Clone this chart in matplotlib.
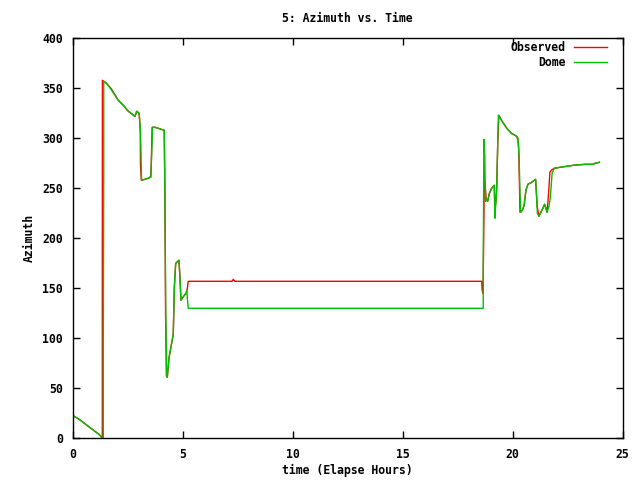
import matplotlib
matplotlib.use('Agg')
from matplotlib import pyplot as plt

# Observed azimuth (hours, degrees)
obs_t = [0.0, 0.3, 0.6, 0.9, 1.2, 1.33, 1.355, 1.355, 1.36, 1.55, 1.78, 2.08, 2.31,
         2.54, 2.84, 2.92, 3.03, 3.08, 3.09, 3.13, 3.44, 3.56, 3.58, 3.62, 3.75, 3.9,
         4.17, 4.2, 4.23, 4.27, 4.31, 4.39, 4.58, 4.63, 4.69, 4.84, 4.89, 4.93, 5.05,
         5.19, 5.22, 5.26, 7.25, 7.31, 7.37, 18.6, 18.62, 18.66, 18.68, 18.72, 18.76,
         18.8, 18.87, 18.95, 19.05, 19.13, 19.17, 19.2, 19.24, 19.28, 19.33, 19.38, 19.5,
         19.74, 19.95, 20.19, 20.25, 20.28, 20.31, 20.34, 20.45, 20.53, 20.61, 20.7,
         20.87, 21.05, 21.1, 21.13, 21.2, 21.4, 21.46, 21.52, 21.57, 21.64, 21.7, 21.76,
         21.9, 22.16, 22.76, 23.3, 23.67, 23.75, 23.95]
obs_az = [23, 19, 14, 9, 4, 1, 0, 179, 358, 355, 349, 338, 333,
          327, 322, 327, 325, 307, 273, 258, 260, 262, 274, 311, 311, 310,
          308, 247, 124, 62, 61, 81, 104, 151, 175, 178, 158, 138, 142,
          146, 150, 157, 157, 159, 157, 157, 148, 145, 182, 258, 252,
          240, 237, 245, 250, 252, 253, 230, 235, 250, 296, 323, 318,
          310, 305, 302, 298, 290, 260, 226, 228, 233, 248, 254,
          256, 259, 240, 231, 222, 231, 234, 230, 226, 245, 266, 268,
          270, 271, 273, 274, 274, 275, 276]

# Dome azimuth
dome_t = [0.0, 0.3, 0.6, 0.9, 1.2, 1.36, 1.4, 1.4, 1.42, 1.42, 1.55, 1.78, 2.08,
          2.31, 2.54, 2.84, 2.92, 3.03, 3.09, 3.14, 3.44, 3.56, 3.6, 3.64, 3.75, 3.9,
          4.17, 4.2, 4.24, 4.28, 4.31, 4.39, 4.58, 4.63, 4.69, 4.84, 4.89, 4.93, 5.05,
          5.16, 5.19, 5.26, 18.67, 18.67, 18.7, 18.74, 18.76, 18.78, 18.8, 18.87,
          18.95, 19.05, 19.13, 19.17, 19.2, 19.24, 19.28, 19.33, 19.36, 19.5, 19.74,
          19.95, 20.19, 20.25, 20.3, 20.34, 20.38, 20.45, 20.53, 20.61, 20.7, 20.87,
          21.05, 21.1, 21.13, 21.2, 21.4, 21.46, 21.52, 21.57, 21.66, 21.72, 21.8,
          21.9, 22.16, 22.76, 23.3, 23.67, 23.75, 23.95]
dome_az = [23, 19, 14, 9, 4, 0, 0, 90, 268, 357, 355, 348, 338,
           333, 327, 322, 327, 325, 307, 258, 260, 261, 285, 311, 311, 310,
           308, 247, 124, 62, 62, 81, 104, 151, 175, 178, 158, 138, 142,
           145, 148, 130, 130, 173, 299, 283, 252, 237, 240, 237,
           245, 250, 252, 253, 220, 235, 247, 296, 323, 318, 310,
           305, 302, 300, 282, 245, 226, 228, 233, 248, 254, 256,
           259, 240, 225, 222, 231, 234, 230, 226, 232, 241, 265,
           270, 271, 273, 274, 274, 275, 276]

FS = 8.3
plt.rcParams['font.family'] = ['DejaVu Sans Mono']
plt.rcParams['font.weight'] = 'bold'
plt.rcParams['font.size'] = FS

fig = plt.figure(figsize=(6.4, 4.8), dpi=100)
ax = fig.add_axes([72.5 / 640, 41.7 / 480, 550 / 640, 400 / 480])

ax.plot(obs_t, obs_az, color='#ff0000', lw=1.0, label='Observed')
ax.plot(dome_t, dome_az, color='#00c000', lw=1.0, label='Dome')

ax.set_xlim(0, 25)
ax.set_ylim(0, 400)
ax.set_xticks(range(0, 26, 5))
ax.set_yticks(range(0, 401, 50))
ax.tick_params(direction='in', top=True, right=True, length=5, width=1, pad=7,
               labelsize=FS)
for sp in ax.spines.values():
    sp.set_linewidth(1)

ax.set_title('5: Azimuth vs. Time', fontsize=FS, fontweight='bold', pad=12)
ax.set_xlabel('time (Elapse Hours)', fontsize=FS, fontweight='bold')
ax.set_ylabel('Azimuth', fontsize=FS, fontweight='bold')
ax.xaxis.set_label_coords(0.5, -0.064)
ax.yaxis.set_label_coords(-0.066, 0.5)

leg = ax.legend(loc='upper right', frameon=False, markerfirst=False,
                bbox_to_anchor=(1 - 13 / 550, 1.0), borderaxespad=0.0,
                borderpad=0.2, handlelength=2.9, labelspacing=0.2,
                handletextpad=0.7, prop={'weight': 'bold', 'size': FS})
for t in leg.get_texts():
    t.set_ha('right')

fig.savefig('out.png')
